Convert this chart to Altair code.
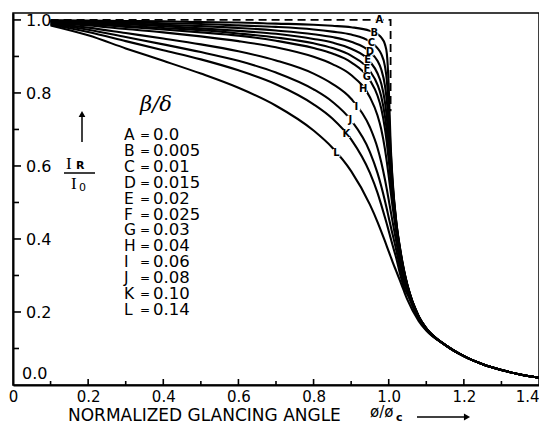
import altair as alt
import pandas as pd
import numpy as np

# ---------------- data ----------------
phi = [0.1, 0.2, 0.3, 0.4, 0.5, 0.6, 0.7, 0.8, 0.85, 0.9, 0.95, 0.97, 0.98, 0.99, 0.995,
       1.0, 1.005, 1.01, 1.02, 1.03, 1.04, 1.05, 1.08, 1.1, 1.15, 1.2, 1.25, 1.3, 1.35, 1.4]

R_B = [0.999, 0.998, 0.997, 0.996, 0.994, 0.993, 0.990, 0.987, 0.984, 0.980, 0.970, 0.961, 0.952, 0.933, 0.908,
       0.819, 0.663, 0.566, 0.449, 0.376, 0.318, 0.273, 0.188, 0.155, 0.110, 0.079, 0.057, 0.041, 0.029, 0.020]
R_C = [0.998, 0.996, 0.994, 0.991, 0.989, 0.985, 0.981, 0.974, 0.968, 0.960, 0.941, 0.923, 0.907, 0.873, 0.834,
       0.754, 0.645, 0.559, 0.447, 0.374, 0.317, 0.272, 0.188, 0.155, 0.110, 0.079, 0.057, 0.041, 0.029, 0.020]
R_D = [0.997, 0.994, 0.991, 0.987, 0.983, 0.978, 0.971, 0.961, 0.953, 0.940, 0.913, 0.888, 0.865, 0.820, 0.778,
       0.708, 0.624, 0.550, 0.444, 0.372, 0.315, 0.272, 0.187, 0.155, 0.110, 0.079, 0.057, 0.041, 0.029, 0.020]
R_E = [0.996, 0.992, 0.988, 0.983, 0.977, 0.970, 0.962, 0.948, 0.938, 0.921, 0.886, 0.854, 0.826, 0.775, 0.732,
       0.672, 0.603, 0.539, 0.440, 0.369, 0.313, 0.271, 0.187, 0.155, 0.110, 0.079, 0.057, 0.041, 0.029, 0.020]
R_F = [0.995, 0.990, 0.984, 0.978, 0.972, 0.963, 0.952, 0.936, 0.923, 0.902, 0.860, 0.823, 0.791, 0.736, 0.695,
       0.642, 0.583, 0.527, 0.436, 0.367, 0.312, 0.270, 0.186, 0.155, 0.110, 0.079, 0.057, 0.041, 0.029, 0.020]
R_G = [0.994, 0.988, 0.981, 0.974, 0.966, 0.957, 0.943, 0.923, 0.908, 0.884, 0.835, 0.793, 0.758, 0.702, 0.663,
       0.616, 0.564, 0.514, 0.430, 0.363, 0.309, 0.269, 0.186, 0.155, 0.110, 0.079, 0.057, 0.041, 0.029, 0.020]
R_H = [0.992, 0.985, 0.975, 0.966, 0.955, 0.942, 0.925, 0.899, 0.879, 0.849, 0.788, 0.739, 0.701, 0.646, 0.611,
       0.572, 0.531, 0.491, 0.418, 0.354, 0.303, 0.267, 0.185, 0.154, 0.110, 0.079, 0.057, 0.041, 0.029, 0.020]
R_I = [0.990, 0.979, 0.964, 0.949, 0.933, 0.914, 0.889, 0.853, 0.825, 0.784, 0.706, 0.650, 0.611, 0.563, 0.536,
       0.507, 0.478, 0.449, 0.393, 0.338, 0.293, 0.262, 0.183, 0.153, 0.110, 0.079, 0.057, 0.041, 0.029, 0.020]
R_J = [0.988, 0.973, 0.953, 0.933, 0.912, 0.888, 0.856, 0.810, 0.776, 0.725, 0.638, 0.581, 0.545, 0.504, 0.482,
       0.459, 0.436, 0.414, 0.370, 0.321, 0.281, 0.255, 0.181, 0.152, 0.110, 0.079, 0.057, 0.041, 0.029, 0.020]
R_K = [0.987, 0.967, 0.942, 0.917, 0.892, 0.862, 0.824, 0.769, 0.730, 0.673, 0.581, 0.527, 0.494, 0.459, 0.441,
       0.422, 0.403, 0.384, 0.348, 0.305, 0.269, 0.248, 0.179, 0.151, 0.110, 0.079, 0.057, 0.041, 0.029, 0.020]
R_L = [0.985, 0.958, 0.922, 0.888, 0.853, 0.814, 0.765, 0.697, 0.650, 0.586, 0.494, 0.447, 0.421, 0.394, 0.380,
       0.366, 0.352, 0.338, 0.312, 0.286, 0.259, 0.233, 0.175, 0.149, 0.110, 0.079, 0.057, 0.041, 0.029, 0.020]

# curve A (beta/delta = 0): dashed step
A_phi = [0.1, 1.005, 1.005]
A_R = [1.0, 1.0, 0.75]

letters = ["A", "B", "C", "D", "E", "F", "G", "H", "I", "J", "K", "L"]
ratios = ["0.0", "0.005", "0.01", "0.015", "0.02", "0.025", "0.03", "0.04", "0.06", "0.08", "0.10", "0.14"]

x_label_values = [0, 0.2, 0.4, 0.6, 0.8, 1.0, 1.2, 1.4]
x_minor_ticks = [0.1, 0.3, 0.5, 0.7, 0.9, 1.1, 1.3]
x_major_ticks = [0.2, 0.4, 0.6, 0.8, 1.0, 1.2]
y_label_values = [0.2, 0.4, 0.6, 0.8, 1.0]
y_label_texts = ["0.2", "0.4", "0.6", "0.8", "1.0"]
y_minor_ticks = [0.1, 0.3, 0.5, 0.7, 0.9]
y_major_ticks = [0.2, 0.4, 0.6, 0.8, 1.0]

# ---------------- layout / style ----------------
W, H = 526, 372
YTOP = 1.019
FONT = "DejaVu Sans"
label_phi = [0.975, 0.962, 0.954, 0.950, 0.944, 0.942, 0.942, 0.932, 0.914, 0.898, 0.887, 0.861]

xs = alt.Scale(domain=[0, 1.4], nice=False, zero=False)
ys = alt.Scale(domain=[0, YTOP], nice=False, zero=False)

x_axis = alt.Axis(values=x_label_values, ticks=False, grid=False, title=None,
                  domainWidth=2, domainColor="black",
                  labelExpr="datum.value == 0 ? '0' : format(datum.value, '.1f')",
                  labelAlign={"condition": {"test": "datum.value > 1.39", "value": "right"},
                              "value": "center"},
                  labelFont=FONT, labelFontSize=15, labelColor="black",
                  labelPadding=4, labelOverlap=False, labelFlush=False)
y_axis = alt.Axis(labels=False, ticks=False, grid=False, title=None,
                  domainWidth=2, domainColor="black")


def X(f):
    return alt.X(f, scale=xs, axis=x_axis)


def Y(f):
    return alt.Y(f, scale=ys, axis=y_axis)


curve_vals = [R_B, R_C, R_D, R_E, R_F, R_G, R_H, R_I, R_J, R_K, R_L]
rows = []
for name, vals in zip(letters[1:], curve_vals):
    for i, (p, r) in enumerate(zip(phi, vals)):
        rows.append({"curve": name, "phi": p, "R": r, "i": i})
df = pd.DataFrame(rows)

df_a = pd.DataFrame({"phi": A_phi, "R": A_R, "i": list(range(len(A_phi)))})

curves = alt.Chart(df).mark_line(color="black", strokeWidth=2.1, interpolate="monotone").encode(
    x=X("phi:Q"), y=Y("R:Q"), detail="curve:N", order="i:Q")

curve_a = alt.Chart(df_a).mark_line(color="black", strokeWidth=1.8, strokeDash=[8, 5]).encode(
    x=X("phi:Q"), y=Y("R:Q"), order="i:Q")

# curve letter labels, sitting on their curves
lab_y = [1.0] + [float(np.interp(lp, phi, v)) for lp, v in zip(label_phi[1:], curve_vals)]
df_lab = pd.DataFrame({"t": letters, "phi": label_phi, "R": lab_y})
lab_bg = alt.Chart(df_lab).mark_square(filled=True, color="white", opacity=1, size=60).encode(
    x=X("phi:Q"), y=Y("R:Q"))
lab_txt = alt.Chart(df_lab).mark_text(font=FONT, fontSize=10, fontWeight="bold", color="black",
                                      baseline="middle", align="center").encode(
    x=X("phi:Q"), y=Y("R:Q"), text="t:N")


# inward ticks
def ticks_y(vals, length):
    return alt.Chart(pd.DataFrame({"v": vals})).mark_rule(color="black", strokeWidth=1.6).encode(
        y=Y("v:Q"), x=alt.value(0), x2=alt.value(length))


def ticks_x(vals, length):
    return alt.Chart(pd.DataFrame({"v": vals})).mark_rule(color="black", strokeWidth=1.6).encode(
        x=X("v:Q"), y=alt.value(H), y2=alt.value(H - length))


# y labels inside the frame
ylab = alt.Chart(pd.DataFrame({"v": y_label_values, "t": y_label_texts})).mark_text(
    font=FONT, fontSize=16, align="left", baseline="middle", color="black", dy=1).encode(
    y=Y("v:Q"), x=alt.value(13), text="t:N")
ylab0 = alt.Chart(pd.DataFrame({"v": [0.0], "t": ["0.0"]})).mark_text(
    font=FONT, fontSize=16, align="left", baseline="middle", color="black", dy=-11).encode(
    y=Y("v:Q"), x=alt.value(9), text="t:N")


def txt(s, x, y, size, font=FONT, align="left", baseline="alphabetic", **kw):
    return alt.Chart(pd.DataFrame({"t": [s]})).mark_text(
        font=font, fontSize=size, align=align, baseline=baseline, color="black", **kw).encode(
        x=alt.value(x), y=alt.value(y), text="t:N")


def px_to_R(py):
    return (H - py) * YTOP / H


# legend block
leg_py = [122 + k * 15.9 for k in range(len(letters))]
df_leg = pd.DataFrame({"L": letters, "eq": ["="] * len(letters), "v": ratios,
                       "R": [px_to_R(p) for p in leg_py]})
leg_letter = alt.Chart(df_leg).mark_text(font=FONT, fontSize=15.5, align="left", baseline="middle",
                                         color="black").encode(
    x=alt.value(111), y=Y("R:Q"), text="L:N")
leg_eq = alt.Chart(df_leg).mark_text(font=FONT, fontSize=12, align="center", baseline="middle",
                                     color="black").encode(
    x=alt.value(132), y=Y("R:Q"), text="eq:N")
leg_val = alt.Chart(df_leg).mark_text(font=FONT, fontSize=16.5, align="left", baseline="middle",
                                      color="black").encode(
    x=alt.value(140), y=Y("R:Q"), text="v:N")

beta = txt("β/δ", 143, 92, 21, font="DejaVu Serif", align="center", baseline="middle",
           fontStyle="italic")

# I_R / I_0 with arrow
one = pd.DataFrame({"a": [0]})
ir_I = txt("I", 53, 156, 17, font="Liberation Serif")
ir_R = txt("R", 63, 156, 11, font=FONT, fontWeight="bold")
frac = alt.Chart(one).mark_rule(color="black", strokeWidth=1.5).encode(
    x=alt.value(51), x2=alt.value(82), y=alt.value(160))
io_I = txt("I", 58, 176, 17, font="Liberation Serif")
io_O = txt("0", 66, 178, 11, font=FONT)
arr = alt.Chart(one).mark_rule(color="black", strokeWidth=1.5).encode(
    x=alt.value(69), y=alt.value(129), y2=alt.value(102))
arr_head = alt.Chart(one).mark_point(shape="triangle-up", filled=True, size=45, color="black",
                                     opacity=1).encode(x=alt.value(69), y=alt.value(101))

# x title
xt = txt("NORMALIZED GLANCING ANGLE", 55, 408, 17)
xt2 = txt("ø/ø", 357, 404, 15)
xt3 = txt("c", 383, 408, 11, fontWeight="bold")
xarr = alt.Chart(one).mark_rule(color="black", strokeWidth=1.5).encode(
    x=alt.value(404), x2=alt.value(452), y=alt.value(404))
xarr_head = alt.Chart(one).mark_point(shape="triangle-right", filled=True, size=50, color="black",
                                      opacity=1).encode(x=alt.value(454), y=alt.value(404))

chart = alt.layer(
    curves, curve_a, lab_bg, lab_txt,
    ticks_y(y_major_ticks, 8), ticks_y(y_minor_ticks, 6),
    ticks_x(x_major_ticks, 6), ticks_x(x_minor_ticks, 4),
    ylab, ylab0,
    leg_letter, leg_eq, leg_val, beta,
    ir_I, ir_R, frac, io_I, io_O, arr, arr_head,
    xt, xt2, xt3, xarr, xarr_head,
).properties(
    width=W, height=H,
    autosize=alt.AutoSizeParams(type="none"),
    padding={"left": 5, "top": 5, "right": 0, "bottom": 40},
    background="white",
).configure_view(stroke="black", strokeWidth=1.5)

chart.save("out.html", embed_options={"renderer": "svg", "actions": False})
